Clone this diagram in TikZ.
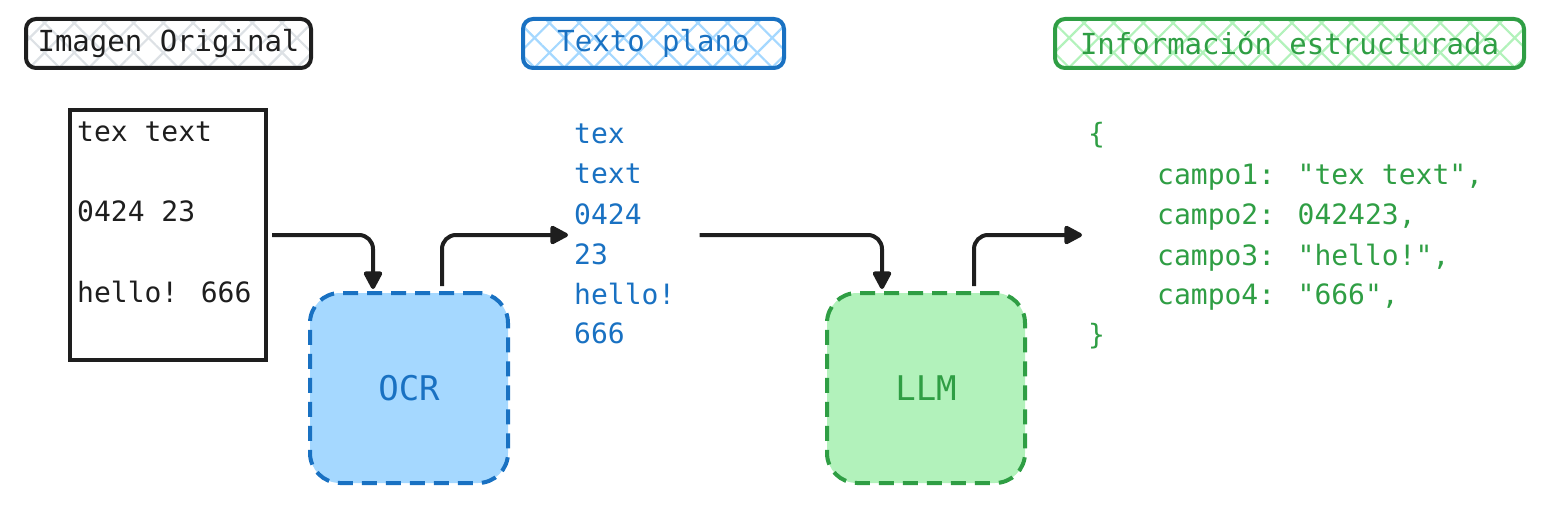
\documentclass[tikz,border=0pt]{standalone}
\usepackage{fontspec}
\newfontfamily\monofont{DejaVu Sans Mono}
\usetikzlibrary{arrows.meta,patterns.meta}
\definecolor{ink}{HTML}{1E1E1E}
\definecolor{blueink}{HTML}{1971C2}
\definecolor{bluefill}{HTML}{A5D8FF}
\definecolor{greenink}{HTML}{2F9E44}
\definecolor{greenfill}{HTML}{B2F2BB}
\definecolor{grayhatch}{HTML}{DDE1E5}
\begin{document}
\begin{tikzpicture}[x=1pt,y=-1pt,
  hatch/.style={
    preaction={pattern={Lines[angle=45,distance=21pt,line width=2.2pt]},pattern color=#1},
    preaction={pattern={Lines[angle=-45,distance=21pt,line width=2.2pt]},pattern color=#1}},
  titlebox/.style 2 args={draw=#1, text=#1, line width=4pt, rounded corners=10pt,
    minimum height=49pt, inner sep=0pt, hatch=#2,
    font=\monofont\fontsize{29}{34}\selectfont},
  txt/.style={anchor=base west, inner sep=0pt, text=#1,
    font=\monofont\fontsize{28}{34}\selectfont},
  proc/.style 2 args={draw=#1, fill=#2, text=#1, line width=4pt,
    dash pattern=on 15pt off 9pt, rounded corners=30pt,
    minimum width=198pt, minimum height=190pt, inner sep=0pt,
    font=\monofont\fontsize{34}{40}\selectfont},
  arr/.style={draw=ink, line width=4pt, rounded corners=14pt, line join=round,
    -{Triangle[length=20pt,width=20pt,round]}}
]
\useasboundingbox (0,0) rectangle (1544,513);

% title boxes
\node[titlebox={ink}{grayhatch}, minimum width=285pt] (t1) at (168.5,43.5) {Imagen Original};
\node[titlebox={blueink}{bluefill}, minimum width=261pt] (t2) at (653.5,43.5) {Texto plano};
\node[titlebox={greenink}{greenfill}, minimum width=469pt] (t3) at (1289.5,43.5) {Información estructurada};

% original image
\node[draw=ink, line width=4pt, minimum width=196pt, minimum height=250pt, inner sep=0pt] (img) at (168,235) {};
\node[txt=ink] (i1) at (77,142) {tex text};
\node[txt=ink] (i2) at (77,222) {0424 23};
\node[txt=ink] (i3) at (77,302) {hello! 666};

% process boxes
\node[proc={blueink}{bluefill}] (ocr) at (409,388) {OCR};
\node[proc={greenink}{greenfill}] (llm) at (926,388) {LLM};

% plain text
\node[txt=blueink] (p1) at (574,144) {tex};
\node[txt=blueink] (p2) at (574,184) {text};
\node[txt=blueink] (p3) at (574,224) {0424};
\node[txt=blueink] (p4) at (574,264) {23};
\node[txt=blueink] (p5) at (574,304) {hello!};
\node[txt=blueink] (p6) at (574,343) {666};

% structured info
\node[txt=greenink] (g0) at (1088,144) {\{};
\node[txt=greenink] (g1) at (1157,185) {campo1: "tex text",};
\node[txt=greenink] (g2) at (1157,225) {campo2: 042423,};
\node[txt=greenink] (g3) at (1157,265) {campo3: "hello!",};
\node[txt=greenink] (g4) at (1157,304) {campo4: "666",};
\node[txt=greenink] (g5) at (1088,344) {\}};

% connectors
\draw[arr, shorten <=4pt, shorten >=2pt] (img.east) -| ([xshift=-36pt]ocr.north);
\draw[arr, shorten <=5pt] ([xshift=33pt]ocr.north) |- ([xshift=-6pt]p1.west |- img.east);
\draw[arr, shorten >=2pt] ([xshift=24pt]p5.east |- img.east) -| ([xshift=-44pt]llm.north);
\draw[arr, shorten <=5pt] ([xshift=48pt]llm.north) |- ([xshift=-6pt]g0.west |- img.east);
\end{tikzpicture}
\end{document}
